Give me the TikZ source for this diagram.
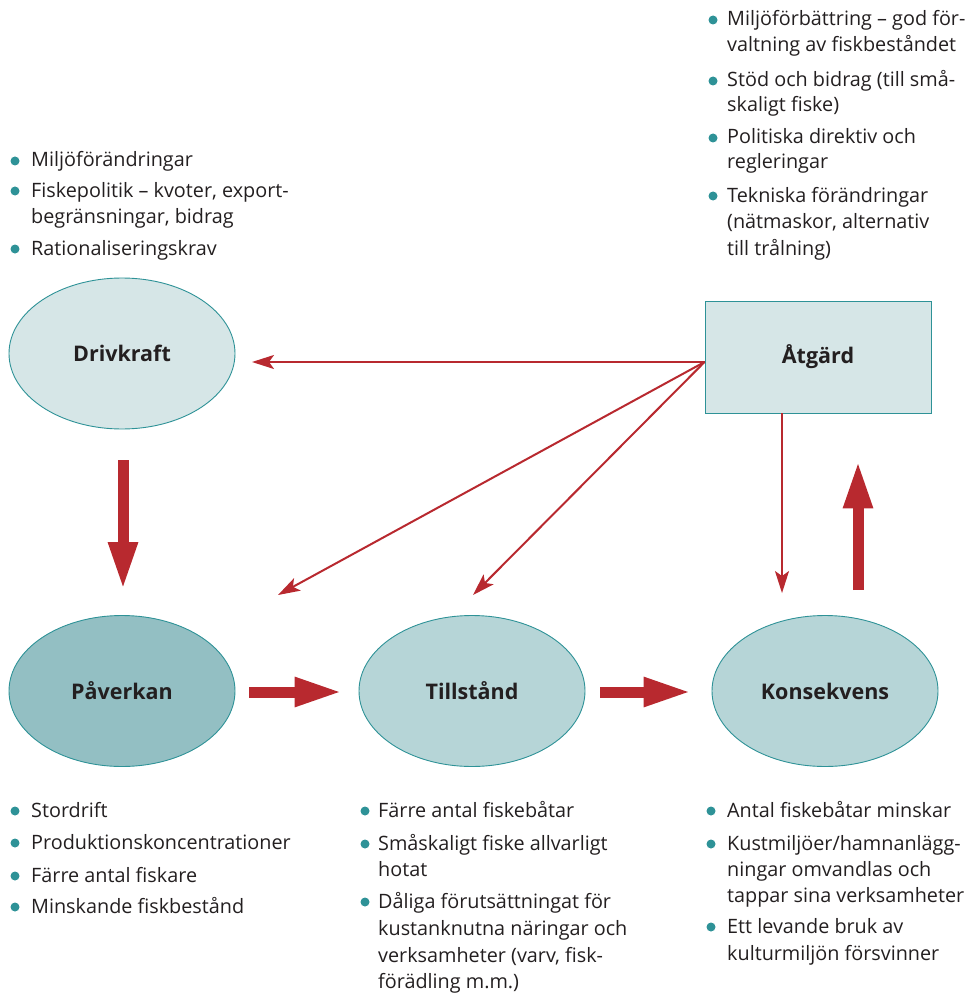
\documentclass[tikz,border=0pt]{standalone}
\usepackage{fontspec}
\setmainfont{Open Sans}
\usetikzlibrary{arrows.meta,shapes.geometric}
\definecolor{tealc}{HTML}{2E9297}
\definecolor{redc}{HTML}{B8292F}
\definecolor{fillA}{HTML}{D6E6E7}
\definecolor{fillB}{HTML}{B6D5D7}
\definecolor{fillC}{HTML}{93BFC3}
\definecolor{txtc}{HTML}{231F20}
\begin{document}
\begin{tikzpicture}[x=1pt,y=-1pt,
  oval/.style={ellipse, draw=tealc, line width=0.9pt, minimum width=226pt, minimum height=151pt, inner sep=0pt, font=\fontsize{21.5}{24}\selectfont\bfseries, text=txtc},
  boxnode/.style={rectangle, draw=tealc, line width=0.9pt, fill=fillA, minimum width=226pt, minimum height=112pt, inner sep=0pt, font=\fontsize{21.5}{24}\selectfont\bfseries, text=txtc},
  txt/.style={anchor=base west, inner sep=0pt, font=\fontsize{19.8}{22}\selectfont, text=txtc},
  dot/.style={circle, fill=tealc, inner sep=0pt, minimum size=9pt},
  thin/.style={draw=redc, line width=2pt, -{Stealth[length=22pt,width=14pt,inset=5pt]}},
  thick/.style={draw=redc, line width=11pt, -{Triangle[length=48pt,width=27pt]}}
]
\useasboundingbox (0,0) rectangle (974,995);

% main nodes
\node[oval, fill=fillA] (driv) at (122,353.5) {Drivkraft};
\node[boxnode] (atg) at (818,357) {Åtgärd};
\node[oval, fill=fillC] (pav) at (122,691) {Påverkan};
\node[oval, fill=fillB] (till) at (472,691) {Tillstånd};
\node[oval, fill=fillB] (kons) at (825,691) {Konsekvens};

% thin arrows from Åtgärd
\coordinate (src) at ([yshift=-5pt]atg.west);
\coordinate (e1) at (252,362);
\coordinate (e2) at (278,595);
\coordinate (e3) at (473,595);
\draw[thin] (src) -- (e1);
\draw[thin] (src) -- (e2);
\draw[thin] (src) -- (e3);
\draw[thin] ([xshift=-36pt]atg.south) -- ([xshift=-43pt,yshift=22pt]kons.north);

% thick arrows
\draw[thick] ([xshift=1pt,yshift=-31pt]driv.south) -- ([xshift=1pt,yshift=25pt]pav.north);
\draw[thick] ([xshift=14pt,yshift=-1pt]pav.east) -- ([xshift=-16pt,yshift=-1pt]till.west);
\draw[thick] ([xshift=15pt,yshift=-1pt]till.east) -- ([xshift=-20pt,yshift=-1pt]kons.west);
\draw[thick] ([xshift=33pt,yshift=25pt]kons.north) -- ([xshift=40pt,yshift=-47pt]atg.south);

% top-left list
\node[dot] (tl1d) at (15,161) {};
\node[txt] (tl1) at (31,167) {Miljöförändringar};
\node[dot] (tl2d) at (15,191) {};
\node[txt] (tl2) at (31,197) {Fiskepolitik – kvoter, export-};
\node[txt] (tl2b) at (31,223) {begränsningar, bidrag};
\node[dot] (tl3d) at (15,249) {};
\node[txt] (tl3) at (31,255) {Rationaliseringskrav};

% top-right list
\node[dot] (tr1d) at (713,20) {};
\node[txt] (tr1) at (727,26) {Miljöförbättring – god för-};
\node[txt] (tr1b) at (727,52) {valtning av fiskbeståndet};
\node[dot] (tr2d) at (713,81) {};
\node[txt] (tr2) at (727,87) {Stöd och bidrag (till små-};
\node[txt] (tr2b) at (727,112) {skaligt fiske)};
\node[dot] (tr3d) at (713,138) {};
\node[txt] (tr3) at (727,144) {Politiska direktiv och};
\node[txt] (tr3b) at (727,169) {regleringar};
\node[dot] (tr4d) at (713,196) {};
\node[txt] (tr4) at (727,202) {Tekniska förändringar};
\node[txt] (tr4b) at (727,228) {(nätmaskor, alternativ};
\node[txt] (tr4c) at (727,255) {till trålning)};

% bottom-left list
\node[dot] (bl1d) at (15,811) {};
\node[txt] (bl1) at (31,817) {Stordrift};
\node[dot] (bl2d) at (15,843) {};
\node[txt] (bl2) at (31,849) {Produktionskoncentrationer};
\node[dot] (bl3d) at (15,876) {};
\node[txt] (bl3) at (31,882) {Färre antal fiskare};
\node[dot] (bl4d) at (15,907) {};
\node[txt] (bl4) at (31,913) {Minskande fiskbestånd};

% bottom-middle list
\node[dot] (bm1d) at (365,811) {};
\node[txt] (bm1) at (378,817) {Färre antal fiskebåtar};
\node[dot] (bm2d) at (365,844) {};
\node[txt] (bm2) at (378,850) {Småskaligt fiske allvarligt};
\node[txt] (bm2b) at (378,876) {hotat};
\node[dot] (bm3d) at (365,902) {};
\node[txt] (bm3) at (378,908) {Dåliga förutsättningat för};
\node[txt] (bm3b) at (378,935) {kustanknutna näringar och};
\node[txt] (bm3c) at (378,962) {verksamheter (varv, fisk-};
\node[txt] (bm3d) at (378,988) {förädling m.m.)};

% bottom-right list
\node[dot] (br1d) at (711,811) {};
\node[txt] (br1) at (727,817) {Antal fiskebåtar minskar};
\node[dot] (br2d) at (711,844) {};
\node[txt] (br2) at (727,850) {Kustmiljöer/hamnanlägg-};
\node[txt] (br2b) at (727,876) {ningar omvandlas och};
\node[txt] (br2c) at (727,902) {tappar sina verksamheter};
\node[dot] (br3d) at (711,927) {};
\node[txt] (br3) at (727,933) {Ett levande bruk av};
\node[txt] (br3b) at (727,960) {kulturmiljön försvinner};
\end{tikzpicture}
\end{document}
